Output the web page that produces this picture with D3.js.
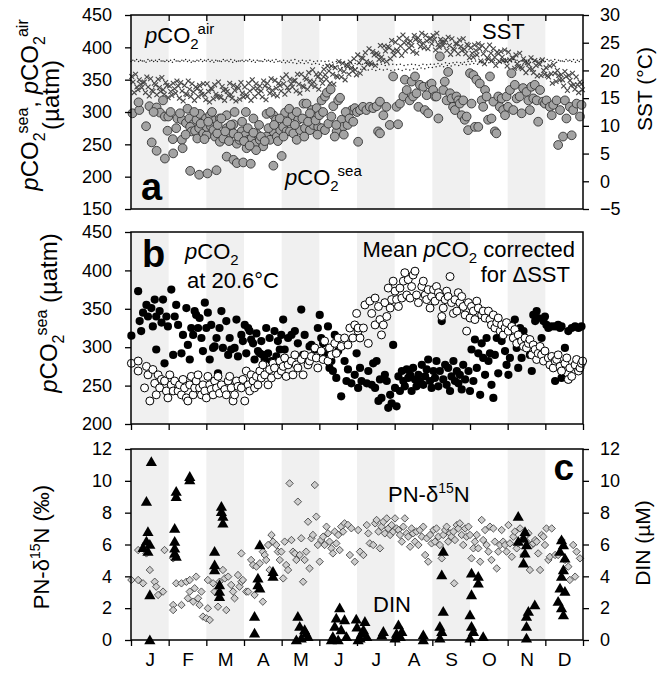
<!DOCTYPE html>
<html><head><meta charset="utf-8">
<script src="https://cdn.jsdelivr.net/npm/d3@7"></script>
<style>body{margin:0;background:#fff}svg{display:block}text{font-family:"Liberation Sans",Arial,Helvetica,sans-serif}</style>
</head><body><svg id="chart" width="659" height="678"></svg>
<script>
// ---------------- DATA ----------------
const months = ["J","F","M","A","M","J","J","A","S","O","N","D"];
const shadedMonths = [0,2,4,6,8,10];
const ticksA = [150,200,250,300,350,400,450];
const ticksSST = [-5,0,5,10,15,20,25,30];
const ticksB = [200,250,300,350,400,450];
const ticksC = [0,2,4,6,8,10,12];
const ticksDIN = [0,2,4,6,8,10,12];

// SST (°C), 10 samples per month, three overlapping bands
const sstUpper = [18.9,19.3,18.3,17.8,18.8,18.5,17.7,18.4,18.7,17.8,
17.2,17.7,18.1,17.8,17.3,18.1,17.6,17.0,17.3,17.6,
17.6,16.8,17.4,17.9,17.1,16.6,17.7,17.3,17.0,17.8,
17.0,17.7,18.3,17.6,17.2,18.1,17.7,18.5,18.2,17.7,
18.6,19.2,18.4,18.1,19.3,19.3,18.7,19.6,20.1,19.3,
19.4,20.2,20.8,20.8,20.5,21.6,21.3,21.0,21.5,22.1,
22.8,22.3,23.2,23.9,23.4,23.1,24.5,24.4,24.3,25.4,
25.1,25.8,26.4,25.7,25.3,26.3,25.9,26.7,26.3,25.7,
26.3,26.7,25.6,25.1,26.0,25.7,24.8,25.5,25.7,24.7,
24.1,24.6,24.8,24.5,23.8,24.6,23.9,23.3,23.4,23.7,
23.3,22.3,22.8,23.1,22.1,21.4,22.3,21.8,21.3,21.9,
20.5,20.8,21.0,20.0,19.2,19.8,19.1,19.5,18.8,17.9];
const sstMid = [17.9,17.0,17.5,17.9,17.0,16.4,17.4,16.9,16.5,17.3,
16.2,16.7,17.2,16.3,15.8,16.6,16.1,16.7,16.3,15.6,
16.2,16.6,15.7,15.3,16.4,16.2,15.6,16.4,16.8,15.9,
15.6,16.3,16.8,16.7,16.3,17.2,16.8,16.4,16.8,17.3,
17.6,16.9,17.6,18.2,17.5,17.2,18.4,18.1,17.9,18.8,
18.4,19.2,19.9,19.3,19.0,20.1,19.8,20.7,20.5,20.1,
21.4,22.2,21.6,21.4,22.8,22.8,22.4,23.5,24.1,23.5,
23.7,24.4,25.0,24.9,24.5,25.6,25.2,24.9,25.3,25.8,
25.6,24.7,25.1,25.5,24.5,23.9,24.8,24.3,23.8,24.5,
23.1,23.6,23.9,23.0,22.3,23.1,22.4,23.0,22.4,21.7,
21.9,22.2,21.2,20.6,21.5,21.1,20.2,20.9,21.1,20.0,
19.1,19.4,19.5,19.1,18.3,18.9,18.2,17.4,17.4,17.5];
const sstLower = [16.0,16.5,16.9,16.0,15.4,16.2,15.6,16.2,15.7,15.1,
15.5,15.9,15.0,14.5,15.6,15.3,14.6,15.3,15.7,14.7,
14.3,14.9,15.3,15.1,14.6,15.5,15.0,14.5,14.8,15.2,
15.3,14.6,15.3,15.9,15.2,14.7,15.9,15.6,15.4,16.3,
15.7,16.4,17.0,16.3,15.9,17.0,16.6,17.4,17.1,16.6,
17.7,18.4,17.7,17.5,18.8,18.8,18.3,19.3,19.9,19.2,
19.5,20.4,21.1,21.1,20.9,22.0,21.8,21.6,22.1,22.8,
23.4,22.7,23.5,24.1,23.4,23.1,24.3,24.1,23.9,24.8,
23.7,24.2,24.5,23.6,22.9,23.7,23.0,23.6,23.0,22.3,
22.4,22.8,21.7,21.2,22.1,21.8,20.9,21.6,21.8,20.8,
20.0,20.4,20.7,20.3,19.6,20.3,19.6,19.0,19.1,19.3,
18.8,17.7,18.0,18.3,17.2,16.4,17.3,16.6,16.0,16.5];

// pCO2 air (µatm), 10 samples per month, two rows
const airUpper = [380,381,380,379,381,380,380,381,379,380,
380,381,379,380,381,380,379,380,381,380,
381,380,380,379,381,380,381,380,379,380,
380,381,380,380,379,381,380,380,381,379,
380,379,380,381,379,380,379,380,378,379,
379,378,379,377,378,376,377,375,376,375,
375,374,375,373,374,373,374,372,373,374,
373,374,372,373,374,373,372,374,373,374,
374,375,374,376,375,376,377,376,377,378,
378,379,378,379,380,379,380,379,380,381,
380,381,380,379,381,380,381,380,381,380,
381,380,381,380,379,381,380,381,380,381];
const airLower = [378,379,378,379,377,379,378,378,379,378,
378,377,379,378,379,378,377,378,379,378,
379,378,377,379,378,379,378,377,378,379,
378,379,378,377,379,378,379,378,377,378,
377,376,377,376,375,376,375,376,374,375,
374,372,373,371,370,371,369,370,368,369,
368,366,367,365,366,364,366,365,366,364,
365,366,364,366,365,367,366,368,367,369,
369,370,371,370,372,371,373,372,374,373,
374,375,374,376,375,376,377,376,377,378,
377,378,377,378,379,378,377,378,379,378,
378,379,378,377,379,378,379,378,377,378];

// pCO2 sea (panel a): [month position, µatm]
const pco2Sea = [[0.04,298],[0.22,303],[0.49,309],[0.68,307],[0.77,299],[0.9,293],[0.99,293],[1.23,290],[1.35,288],[1.46,283],[1.55,290],[1.65,281],[1.74,288],[1.83,297],[1.99,290],[2.1,295],[2.23,287],[2.36,290],[2.54,295],[2.72,281],[3.05,300],[3.25,290],[3.6,297],[3.78,295],[3.85,288],[4.09,299],[4.29,295],[4.44,288],[4.58,313],[4.66,313],[4.8,303],[4.93,306],[5.06,318],[5.15,324],
[0.4,278],[0.55,253],[0.97,271],[1.11,258],[1.35,257],[1.37,244],[1.57,277],[1.61,270],[1.7,271],[1.76,259],[1.81,275],[1.92,267],[2.01,264],[2.01,277],[2.12,278],[2.19,272],[2.23,262],[2.29,267],[2.36,254],[2.45,259],[2.54,275],[2.63,267],[2.72,267],[2.81,251],[2.88,257],[2.94,270],[3.03,264],[3.07,244],[3.12,257],[3.2,259],[3.29,251],[3.34,266],[3.42,257],[3.51,247],[3.6,262],[3.69,257],[3.78,270],[3.87,262],[3.96,272],[4.04,277],[4.13,270],[4.22,270],[4.31,267],[4.4,257],[4.49,272],[4.62,275],[4.75,272],[4.84,280],[4.97,277],[5.06,275],[5.15,272],[5.24,282],
[0.68,240],[0.9,228],[1.12,236],[1.57,209],[1.81,203],[2.03,205],[2.27,210],[2.54,231],[2.72,226],[2.81,221],[2.98,222],[3.18,220],[3.32,241],[3.78,217],[4.0,232],
[0.2,315],[0.6,300],[0.85,318],[1.05,300],[1.2,275],[1.3,298],[1.45,265],[1.5,305],[1.68,300],[1.85,282],[1.95,258],[2.05,285],[2.15,300],[2.3,280],[2.4,290],[2.5,270],[2.6,255],[2.65,280],[2.75,300],[2.85,262],[2.95,285],[3.0,255],[3.1,275],[3.15,248],[3.25,268],[3.4,280],[3.45,262],[3.55,255],[3.65,275],[3.7,300],[3.8,280],[3.9,255],[3.95,290],[4.05,262],[4.15,285],[4.2,305],[4.35,280],[4.4,300],[4.55,290],[4.6,262],[4.7,285],[4.75,298],[4.9,287],[4.95,265],[5.0,295],
[5.37,309],[5.5,318],[5.59,288],[5.63,277],[5.46,270],[5.41,262],[5.32,293],[5.86,303],[5.94,306],[6.03,254],[5.2,330],[5.3,335],[5.55,322],[5.7,300],[5.75,280],[5.8,290],[5.9,285],[6.0,300],[5.1,300],[5.65,265],[5.45,280],
[6.08,303],[6.16,308],[6.25,303],[6.34,308],[6.43,306],[6.52,309],[6.61,316],[6.56,270],[6.61,267],[6.7,295],[6.78,308],[6.87,280],[6.96,355],[7.05,308],[7.09,281],[7.14,313],[7.23,324],[7.27,350],[7.32,334],[7.4,318],[7.45,347],[7.49,324],[7.54,355],[7.58,329],[7.63,308],[7.67,342],[7.76,339],[7.8,303],[7.85,326],[7.89,298],[7.93,342],[7.98,344],[8.02,334],[8.07,324],[8.11,324],[8.16,290],[8.2,386],[8.29,334],[8.33,347],[8.38,318],[8.42,362],[8.47,329],[8.51,321],[8.55,308],[8.6,303],[8.64,324],[8.69,318],[8.73,313],[8.78,295],[8.82,318],[8.86,288],[8.91,293],[8.95,272],[9.0,360],[9.04,313],[9.09,357],[9.13,277],[9.17,350],[9.22,277],[9.26,344],[9.31,318],[9.35,308],[9.4,334],[9.44,324],[9.48,288],[9.53,355],[9.57,290],[9.62,316],[9.66,270],[9.7,267],[9.75,324],[9.79,308],[9.84,321],[9.88,303],[9.93,295],[9.97,324],[10.01,308],[10.06,334],[10.1,360],[10.15,303],[10.19,342],[10.24,321],[10.32,324],[10.37,298],[10.41,337],[10.5,331],[10.55,318],[10.59,303],[10.63,339],[10.68,321],[10.72,342],[10.77,318],[10.81,285],[10.86,334],[10.94,316],[10.99,313],[11.03,318],[11.12,308],[11.17,295],[11.21,311],[11.3,318],[11.34,249],[11.39,303],[11.47,262],[11.52,318],[11.56,290],[11.65,308],[11.7,264],[11.74,303],[11.83,313],[11.92,293],[11.96,311]];

// Panel b: pCO2 at 20.6 °C (filled) and mean pCO2 corrected for ΔSST (open)
const pco2At206 = [[0.01,315],[0.19,373],[0.23,334],[0.32,345],[0.27,321],[0.41,355],[0.45,340],[0.54,351],[0.58,327],[0.63,362],[0.67,340],[0.67,297],[0.76,347],[0.81,332],[0.85,362],[0.89,279],[0.94,340],[0.98,327],[1.07,375],[1.12,290],[1.16,340],[1.2,355],[1.25,329],[1.34,292],[1.38,316],[1.47,351],[1.51,303],[1.56,284],[1.6,325],[1.65,316],[1.69,347],[1.73,342],[1.78,325],[1.82,338],[1.87,312],[1.91,295],[1.96,358],[2.0,325],[2.04,345],[2.09,284],[2.13,329],[2.18,299],[2.22,301],[2.27,312],[2.31,266],[2.35,325],[2.4,347],[2.44,299],[2.53,334],[2.58,290],[2.62,312],[2.66,297],[2.75,299],[2.8,336],[2.84,288],[2.93,316],[2.97,308],[3.02,329],[3.06,292],[3.11,325],[3.15,321],[3.19,310],[3.24,305],[3.28,284],[3.33,318],[3.37,295],[3.42,292],[3.46,308],[3.5,290],[3.55,284],[3.59,325],[3.64,292],[3.68,312],[3.73,282],[3.81,321],[3.86,288],[3.9,308],[3.95,297],[3.99,316],[4.04,336],[4.08,297],[4.17,312],[4.26,316],[4.35,321],[4.43,305],[4.52,349],[4.57,290],[4.61,316],[4.7,282],[4.74,301],[4.79,303],[4.88,297],[4.96,325],[5.01,342],[5.05,312],[5.1,305],[5.14,292],[5.23,327],[5.27,273],[5.32,282],[5.36,269],[5.41,316],[5.45,260],[5.5,295],[5.58,236],[5.67,282],[5.72,256],[5.76,271],[5.85,253],[5.94,264],[6.03,247],
[5.99,292],[6.08,273],[6.12,256],[6.26,253],[6.3,269],[6.39,251],[6.43,279],[6.48,247],[6.52,282],[6.57,230],[6.61,258],[6.65,234],[6.74,264],[6.79,256],[6.83,221],[6.88,238],[6.92,227],[6.96,303],[7.01,247],[7.05,223],[7.1,262],[7.14,243],[7.19,269],[7.23,256],[7.27,249],[7.32,271],[7.36,260],[7.41,264],[7.45,243],[7.49,273],[7.54,258],[7.58,249],[7.63,264],[7.67,256],[7.72,277],[7.76,251],[7.81,262],[7.85,271],[7.89,284],[7.94,256],[7.98,247],[8.03,269],[8.07,260],[8.11,282],[8.16,249],[8.2,269],[8.25,334],[8.29,258],[8.34,277],[8.38,251],[8.42,273],[8.47,243],[8.51,262],[8.56,282],[8.6,256],[8.65,269],[8.69,253],[8.73,264],[8.78,245],[8.82,277],[8.87,258],[8.96,269],[9.0,243],[9.04,297],[9.09,256],[9.13,310],[9.18,273],[9.22,292],[9.27,238],[9.31,305],[9.35,286],[9.4,264],[9.44,312],[9.49,282],[9.53,292],[9.57,251],[9.62,234],[9.66,290],[9.71,312],[9.75,266],[9.84,308],[9.88,325],[9.93,295],[9.97,277],[10.02,264],[10.06,286],[10.11,329],[10.15,312],[10.19,336],[10.24,299],[10.28,273],[10.33,325],[10.37,286],[10.42,321],[10.46,303],[10.55,310],[10.59,290],[10.64,269],[10.68,342],[10.73,334],[10.77,347],[10.81,338],[10.9,312],[10.95,334],[10.99,340],[11.03,329],[11.08,325],[11.17,327],[11.26,327],[11.34,329],[11.39,325],[11.43,327],[11.52,299],[11.61,321],[11.7,325],[11.79,327],[11.88,325],[11.96,327],[11.26,256],[11.43,260],[11.61,258]];
const pco2Corrected = [[0.01,279],[0.19,282],[0.19,269],[0.36,247],[0.41,275],[0.45,264],[0.5,230],[0.58,271],[0.63,253],[0.67,238],[0.72,264],[0.76,247],[0.81,258],[0.89,256],[0.94,243],[0.98,234],[1.03,264],[1.07,251],[1.12,243],[1.16,256],[1.25,243],[1.29,251],[1.34,238],[1.38,258],[1.42,247],[1.47,234],[1.51,230],[1.56,251],[1.6,262],[1.65,238],[1.69,247],[1.73,256],[1.78,264],[1.82,247],[1.87,238],[1.91,251],[1.96,243],[2.0,234],[2.04,262],[2.09,251],[2.13,245],[2.18,238],[2.22,256],[2.27,247],[2.31,262],[2.35,240],[2.4,251],[2.49,245],[2.53,238],[2.58,256],[2.62,262],[2.66,247],[2.71,230],[2.75,238],[2.8,256],[2.84,249],[2.93,247],[2.97,258],[3.02,230],[3.06,269],[3.11,251],[3.15,243],[3.19,264],[3.24,256],[3.28,247],[3.33,262],[3.37,251],[3.42,269],[3.46,260],[3.5,277],[3.55,264],[3.64,251],[3.68,271],[3.73,260],[3.77,279],[3.81,273],[3.9,264],[3.95,282],[3.99,269],[4.04,275],[4.08,286],[4.12,262],[4.17,277],[4.26,282],[4.3,264],[4.35,290],[4.39,277],[4.43,273],[4.52,284],[4.57,264],[4.61,290],[4.7,277],[4.74,282],[4.79,288],[4.88,299],[4.92,286],[4.96,273],[5.05,295],[5.1,284],[5.14,308],[5.23,282],[5.27,299],[5.32,290],[5.41,305],[5.45,292],[5.5,312],[5.58,301],[5.67,312],[5.76,303],[5.81,325],[5.89,312],[5.94,329],[6.03,321],
[5.99,344],[6.03,325],[6.08,312],[6.17,325],[6.21,355],[6.3,305],[6.34,360],[6.39,344],[6.48,364],[6.48,329],[6.57,353],[6.61,336],[6.65,316],[6.7,329],[6.74,358],[6.79,340],[6.83,377],[6.88,351],[6.92,362],[6.96,386],[7.01,373],[7.05,362],[7.1,353],[7.14,377],[7.19,364],[7.23,386],[7.27,397],[7.32,368],[7.36,388],[7.41,364],[7.45,379],[7.49,394],[7.54,399],[7.58,368],[7.63,358],[7.72,379],[7.76,386],[7.81,368],[7.85,362],[7.89,375],[7.94,351],[7.98,366],[8.03,375],[8.07,360],[8.11,379],[8.16,371],[8.2,366],[8.25,340],[8.29,351],[8.34,362],[8.38,373],[8.42,366],[8.47,392],[8.51,358],[8.56,344],[8.6,362],[8.65,347],[8.69,371],[8.73,358],[8.78,366],[8.82,353],[8.87,342],[8.91,321],[8.96,358],[9.0,338],[9.04,353],[9.09,347],[9.13,336],[9.18,360],[9.22,351],[9.31,342],[9.35,347],[9.4,338],[9.49,347],[9.53,336],[9.57,329],[9.62,342],[9.66,325],[9.71,332],[9.75,338],[9.8,321],[9.84,329],[9.88,316],[9.93,325],[9.97,332],[10.02,321],[10.11,327],[10.15,312],[10.19,323],[10.24,305],[10.28,316],[10.37,308],[10.42,301],[10.46,312],[10.5,299],[10.55,305],[10.59,310],[10.64,290],[10.68,303],[10.73,297],[10.77,284],[10.81,292],[10.86,301],[10.9,290],[10.95,282],[10.99,295],[11.08,286],[11.12,277],[11.17,288],[11.21,273],[11.26,282],[11.3,284],[11.34,290],[11.39,275],[11.43,269],[11.52,279],[11.57,286],[11.61,258],[11.65,273],[11.7,262],[11.79,277],[11.83,284],[11.88,269],[11.92,273],[11.96,279],[11.99,282]];

// Panel c: PN-δ15N (‰) diamonds and DIN (µM) triangles
const pnD15N = [[0.01,3.77],[0.19,3.77],[0.32,3.56],[0.19,5.65],[0.41,5.44],[0.5,4.4],[0.63,3.66],[0.67,3.35],[0.72,2.83],[0.89,5.65],[0.85,3.04],[1.12,5.13],[1.12,2.2],[1.12,1.88],[1.2,3.56],[1.34,2.2],[1.34,3.56],[1.47,3.66],[1.51,2.62],[1.56,3.77],[1.56,3.04],[1.65,2.41],[1.69,3.25],[1.73,3.98],[1.78,2.62],[1.82,2.2],[1.87,3.04],[1.91,1.47],[2.0,1.36],[2.04,3.77],[2.09,1.26],[2.04,1.99],[2.18,3.56],[2.22,3.04],[2.31,2.09],[2.35,3.66],[2.44,4.4],[2.49,3.87],[2.53,1.88],[2.58,3.98],[2.66,3.46],[2.71,3.04],[2.75,2.62],[2.84,4.08],[2.88,3.35],[2.93,3.66],[2.97,3.77],[2.93,5.44],[3.06,3.04],[3.11,3.04],[3.19,5.03],[3.24,4.71],[3.28,2.83],[3.33,4.61],[3.42,4.82],[3.5,2.41],[3.5,5.55],[3.55,5.34],[3.59,5.03],[3.64,5.97],[3.68,4.4],[3.73,6.6],[3.77,6.18],[3.86,5.97],[3.9,5.55],[3.95,5.03],[3.99,5.55],[4.04,3.87],[4.08,6.18],[4.12,4.71],[4.17,4.4],[4.21,9.84],[4.26,6.28],[4.3,5.55],[4.35,5.44],[4.39,5.03],[4.43,8.69],[4.48,5.34],[4.52,6.39],[4.57,3.66],[4.61,5.03],[4.65,5.55],[4.7,7.43],[4.74,4.5],[4.79,6.39],[4.83,6.6],[4.88,9.74],[4.92,7.75],[4.96,5.97],[5.01,4.92],[5.05,6.28],[5.1,6.49],[5.14,5.97],[5.19,7.12],[5.23,6.7],[5.27,6.18],[5.32,5.76],[5.36,5.44],[5.41,6.81],[5.45,6.07],[5.5,6.6],[5.54,5.65],[5.58,7.12],[5.63,6.81],[5.67,7.33],[5.76,7.23],[5.81,5.34],[5.85,7.02],[5.94,4.92],
[6.03,6.91],[6.08,5.55],[6.17,5.34],[6.26,7.22],[6.3,6.7],[6.34,6.07],[6.43,5.97],[6.48,7.33],[6.52,7.54],[6.57,6.81],[6.61,5.76],[6.65,7.12],[6.7,7.43],[6.74,6.7],[6.79,7.64],[6.83,7.01],[6.88,6.6],[6.92,7.22],[6.96,6.81],[7.01,7.64],[7.05,7.01],[7.1,6.91],[7.14,6.6],[7.19,6.18],[7.23,7.12],[7.27,7.64],[7.32,6.7],[7.36,6.49],[7.41,5.86],[7.45,7.01],[7.49,6.7],[7.54,6.18],[7.58,6.81],[7.63,5.97],[7.67,6.91],[7.72,6.49],[7.76,7.12],[7.81,5.34],[7.85,6.39],[7.89,4.92],[7.94,6.6],[7.98,6.07],[8.03,6.91],[8.07,6.18],[8.11,7.01],[8.16,6.49],[8.2,5.97],[8.25,5.13],[8.29,6.6],[8.34,6.91],[8.38,7.12],[8.42,6.18],[8.47,6.7],[8.51,6.49],[8.56,6.81],[8.58,3.56],[8.6,6.28],[8.65,7.22],[8.69,7.01],[8.73,7.33],[8.78,6.6],[8.82,5.97],[8.87,7.01],[8.91,6.49],[8.96,7.12],[9.0,6.6],[9.04,5.13],[9.09,5.76],[9.13,6.18],[9.18,6.6],[9.22,5.76],[9.27,4.92],[9.31,7.54],[9.35,6.28],[9.4,6.91],[9.44,5.97],[9.49,5.55],[9.53,7.12],[9.57,5.03],[9.62,7.01],[9.66,6.18],[9.71,4.5],[9.75,5.55],[9.8,5.97],[9.84,6.91],[9.88,6.18],[9.93,5.97],[9.97,5.55],[10.02,7.22],[10.06,6.07],[10.11,5.23],[10.15,6.49],[10.19,6.81],[10.24,5.76],[10.28,6.07],[10.33,7.01],[10.37,6.28],[10.42,5.34],[10.46,6.49],[10.5,6.18],[10.55,6.7],[10.59,4.4],[10.64,5.97],[10.68,6.07],[10.73,6.28],[10.77,6.18],[10.81,5.44],[10.86,4.4],[10.9,6.6],[10.95,6.49],[10.99,5.97],[11.03,7.01],[11.08,5.03],[11.12,5.23],[11.17,7.01],[11.26,5.34],[11.34,5.34],[11.43,6.28],[11.52,5.03],[11.61,4.61],[11.65,3.77],[11.74,5.97],[11.79,3.98],[11.83,5.55],[11.92,5.13]];
const din = [[0.54,11.2],[0.41,8.7],[0.45,6.8],[0.41,6.2],[0.32,5.8],[0.5,6.0],[0.45,5.55],[0.5,2.83],[0.5,0],
[1.56,10.26],[1.56,10.05],[1.2,9.32],[1.2,9.0],[1.16,7.0],[1.16,6.18],[1.16,5.76],[1.16,5.45],[1.2,5.24],
[2.4,8.38],[2.4,8.06],[2.44,7.75],[2.44,7.33],[2.22,5.55],[2.22,4.71],[2.22,4.4],[2.35,3.46],[2.35,3.04],[2.35,2.72],
[3.42,5.97],[3.37,3.87],[3.37,3.46],[3.42,3.25],[3.28,1.47],[3.28,0.42],[3.77,4.29],[3.77,3.98],
[4.43,1.47],[4.48,0.84],[4.61,0.63],[4.65,0.42],[4.39,0],[4.52,0.1],[4.7,0.2],
[5.54,2.0],[5.45,1.36],[5.67,1.26],[5.41,0.84],[5.58,0.63],[5.36,0.2],[5.72,0.2],[5.5,0],[5.32,0],[6.03,0],[6.0,0.8],[6.12,0.4],[5.98,1.3],
[6.21,1.15],[6.17,0.63],[6.26,0.2],[6.08,0.1],[6.66,0.3],[6.7,0.52],[7.1,0.94],[7.19,0.52],[7.01,0.1],[7.05,0.4],[7.15,0.2],[7.76,0.31],[7.76,0],
[8.29,5.55],[8.25,4.08],[8.29,1.78],[8.2,0.84],[8.25,0.52],[8.2,0.1],
[9.04,4.19],[9.04,2.83],[9.0,1.57],[9.04,0.84],[9.09,0.52],[9.0,0.1],[9.22,3.98],[9.22,3.56],[9.35,0.2],
[10.28,7.75],[10.46,6.8],[10.42,6.39],[10.28,6.18],[10.5,5.97],[10.46,5.45],[10.42,4.82],[10.55,1.78],[10.5,1.47],[10.5,0.84],[10.5,0.1],[10.72,2.2],
[11.43,6.28],[11.48,5.97],[11.39,5.55],[11.52,5.13],[11.48,4.4],[11.43,3.98],[11.39,3.25],[11.52,3.04],[11.34,2.41],[11.43,2.0],[11.48,1.57]];

// ---------------- DRAWING ----------------
const svg = d3.select("#chart");
const FONT = '"Liberation Sans",Arial,Helvetica,sans-serif';
const L = 131, R = 583;
const panels = {a:[15,209], b:[232,424], c:[449,640]};
const x = d3.scaleLinear().domain([0,12]).range([L,R]);
const yA = d3.scaleLinear().domain([150,450]).range([panels.a[1],panels.a[0]]);
const ySST = d3.scaleLinear().domain([-5,30]).range([panels.a[1],panels.a[0]]);
const yB = d3.scaleLinear().domain([200,450]).range([panels.b[1],panels.b[0]]);
const yC = d3.scaleLinear().domain([0,12]).range([panels.c[1],panels.c[0]]);
const yDIN = d3.scaleLinear().domain([0,12]).range([panels.c[1],panels.c[0]]);

Object.values(panels).forEach(([t,b]) => {
  svg.append("g").selectAll("rect").data(shadedMonths).join("rect")
    .attr("x", d => x(d)).attr("width", d => x(d+1)-x(d))
    .attr("y", t).attr("height", b-t).attr("fill", "#f0f0f0");
});

function styleAxis(g, size){
  g.attr("font-family", FONT).attr("font-size", size);
  g.select(".domain").remove();
  g.selectAll(".tick line").attr("stroke","#000").attr("stroke-width",1.3);
  g.selectAll(".tick text").attr("fill","#000");
}
const bounds = d3.range(0,13);
const inner = d3.range(1,12);

// ---- Panel a ----
const cross = "M-2.4,-2.4L2.4,2.4M-2.4,2.4L2.4,-2.4";
const sstG = svg.append("g");
[[sstUpper,0.2],[sstMid,0.55],[sstLower,0.85]].forEach(([arr,off]) => {
  sstG.append("g").selectAll("path").data(arr).join("path")
    .attr("transform",(d,i)=>`translate(${x((i+off)/10)},${ySST(d)})`)
    .attr("d",cross).attr("stroke","#474747").attr("stroke-width",1.1).attr("fill","none");
});
const airG = svg.append("g");
airG.selectAll(".au").data(airUpper).join("circle")
  .attr("cx",(d,i)=>x((i+0.5)/10)).attr("cy",d=>yA(d)).attr("r",0.75).attr("fill","#222");
airG.selectAll(".al").data(airLower).join("circle")
  .attr("cx",(d,i)=>x((i+0.0)/10)).attr("cy",d=>yA(d)).attr("r",0.75).attr("fill","#222");
svg.append("g").selectAll("circle").data(pco2Sea).join("circle")
  .attr("cx",d=>x(d[0])).attr("cy",d=>yA(d[1])).attr("r",4.4)
  .attr("fill","#a3a3a3").attr("stroke","#333").attr("stroke-width",0.9);

// ---- Panel b ----
svg.append("g").selectAll("circle").data(pco2At206).join("circle")
  .attr("cx",d=>x(d[0])).attr("cy",d=>yB(d[1])).attr("r",4.1).attr("fill","#000");
svg.append("g").selectAll("circle").data(pco2Corrected).join("circle")
  .attr("cx",d=>x(d[0])).attr("cy",d=>yB(d[1])).attr("r",4.0)
  .attr("fill","#fff").attr("stroke","#000").attr("stroke-width",1);

// ---- Panel c ----
const diamond = "M0,-3.7L3.7,0L0,3.7L-3.7,0Z";
svg.append("g").selectAll("path").data(pnD15N).join("path")
  .attr("transform",d=>`translate(${x(d[0])},${yC(d[1])})`).attr("d",diamond)
  .attr("fill","#cdcdcd").attr("stroke","#333").attr("stroke-width",0.8);
const tri = "M0,-5.6L5.6,4.2L-5.6,4.2Z";
svg.append("g").selectAll("path").data(din).join("path")
  .attr("transform",d=>`translate(${x(d[0])},${yDIN(d[1])})`).attr("d",tri).attr("fill","#000");

// frames
Object.values(panels).forEach(([t,b]) => {
  svg.append("rect").attr("x",L).attr("y",t).attr("width",R-L).attr("height",b-t)
    .attr("fill","none").attr("stroke","#000").attr("stroke-width",1.5);
});

// axes
styleAxis(svg.append("g").attr("transform",`translate(${L},0)`)
  .call(d3.axisLeft(yA).tickValues(ticksA).tickSize(6).tickPadding(13)), 18);
styleAxis(svg.append("g").attr("transform",`translate(${R},0)`)
  .call(d3.axisRight(ySST).tickValues(ticksSST).tickSize(6).tickPadding(11)), 18);
styleAxis(svg.append("g").attr("transform",`translate(0,${panels.a[0]})`)
  .call(d3.axisBottom(x).tickValues(inner).tickSize(6).tickFormat("")), 18);
styleAxis(svg.append("g").attr("transform",`translate(${L},0)`)
  .call(d3.axisLeft(yB).tickValues(ticksB).tickSize(6).tickPadding(13)), 18);
styleAxis(svg.append("g").attr("transform",`translate(0,${panels.b[1]})`)
  .call(d3.axisBottom(x).tickValues(bounds).tickSize(6).tickFormat("")), 18);
styleAxis(svg.append("g").attr("transform",`translate(${L},0)`)
  .call(d3.axisLeft(yC).tickValues(ticksC).tickSize(6).tickPadding(13)), 18);
styleAxis(svg.append("g").attr("transform",`translate(${R},0)`)
  .call(d3.axisRight(yDIN).tickValues(ticksDIN).tickSize(6).tickPadding(11)), 18);
styleAxis(svg.append("g").attr("transform",`translate(0,${panels.c[1]})`)
  .call(d3.axisBottom(x).tickValues(bounds).tickSize(6).tickFormat("")), 18);
styleAxis(svg.append("g").attr("transform",`translate(0,${panels.c[1]})`)
  .call(d3.axisBottom(x).tickValues(months.map((m,i)=>i+0.5)).tickSize(0).tickPadding(13)
    .tickFormat((d,i)=>months[i])), 19);

function rich(sel, parts, size, small){
  let cur = 0;
  parts.forEach(p => {
    const target = p.sub ? size*0.28 : (p.sup ? -size*0.42 : 0);
    const ts = sel.append("tspan").text(p.t).attr("dy", target-cur);
    cur = target;
    if (p.sub || p.sup) ts.attr("font-size", small);
    if (p.i) ts.attr("font-style","italic");
    if (p.dx) ts.attr("dx", p.dx);
  });
  return sel;
}
function txt(x0,y0,size,anchor,rot){
  const t = svg.append("text").attr("font-family",FONT).attr("font-size",size).attr("fill","#000")
    .attr("text-anchor",anchor||"start");
  if (rot) t.attr("transform",`translate(${x0},${y0}) rotate(-90)`);
  else t.attr("x",x0).attr("y",y0);
  return t;
}
const pco2 = (s) => [{t:"p",i:true},{t:"CO"},{t:"2",sub:true},{t:s,sup:true,dx:-1}];

// axis titles
rich(txt(38,105,24,"middle",true), [...pco2("sea"),{t:", "},...pco2("air")], 24, 16);
txt(59,95,24,"middle",true).text("(µatm)");
txt(652,89,21,"middle",true).text("SST (°C)");
rich(txt(57,313,24,"middle",true), [...pco2("sea"),{t:" (µatm)"}], 24, 16);
rich(txt(49,547,22,"middle",true), [{t:"PN-δ"},{t:"15",sup:true},{t:"N (‰)"}], 22, 14);
txt(650,543,21,"middle",true).text("DIN (µM)");

// in-plot labels
rich(txt(145,43,22), pco2("air"), 22, 15);
rich(txt(285,185,22), pco2("sea"), 22, 15);
txt(482,39,22).text("SST");
rich(txt(185,259,22), [{t:"p",i:true},{t:"CO"},{t:"2",sub:true}], 22, 15);
txt(187,288,22).text("at 20.6°C");
rich(txt(575,257,22,"end"), [{t:"Mean "},{t:"p",i:true},{t:"CO"},{t:"2",sub:true},{t:" corrected"}], 22, 15);
txt(570,282,22,"end").text("for ΔSST");
rich(txt(388,502,22), [{t:"PN-δ"},{t:"15",sup:true},{t:"N"}], 22, 14);
txt(373,612,22).text("DIN");
txt(141,200,38).attr("font-weight","bold").text("a");
txt(142,267,38).attr("font-weight","bold").text("b");
txt(574,480,37,"end").attr("font-weight","bold").text("c");
</script></body></html>
